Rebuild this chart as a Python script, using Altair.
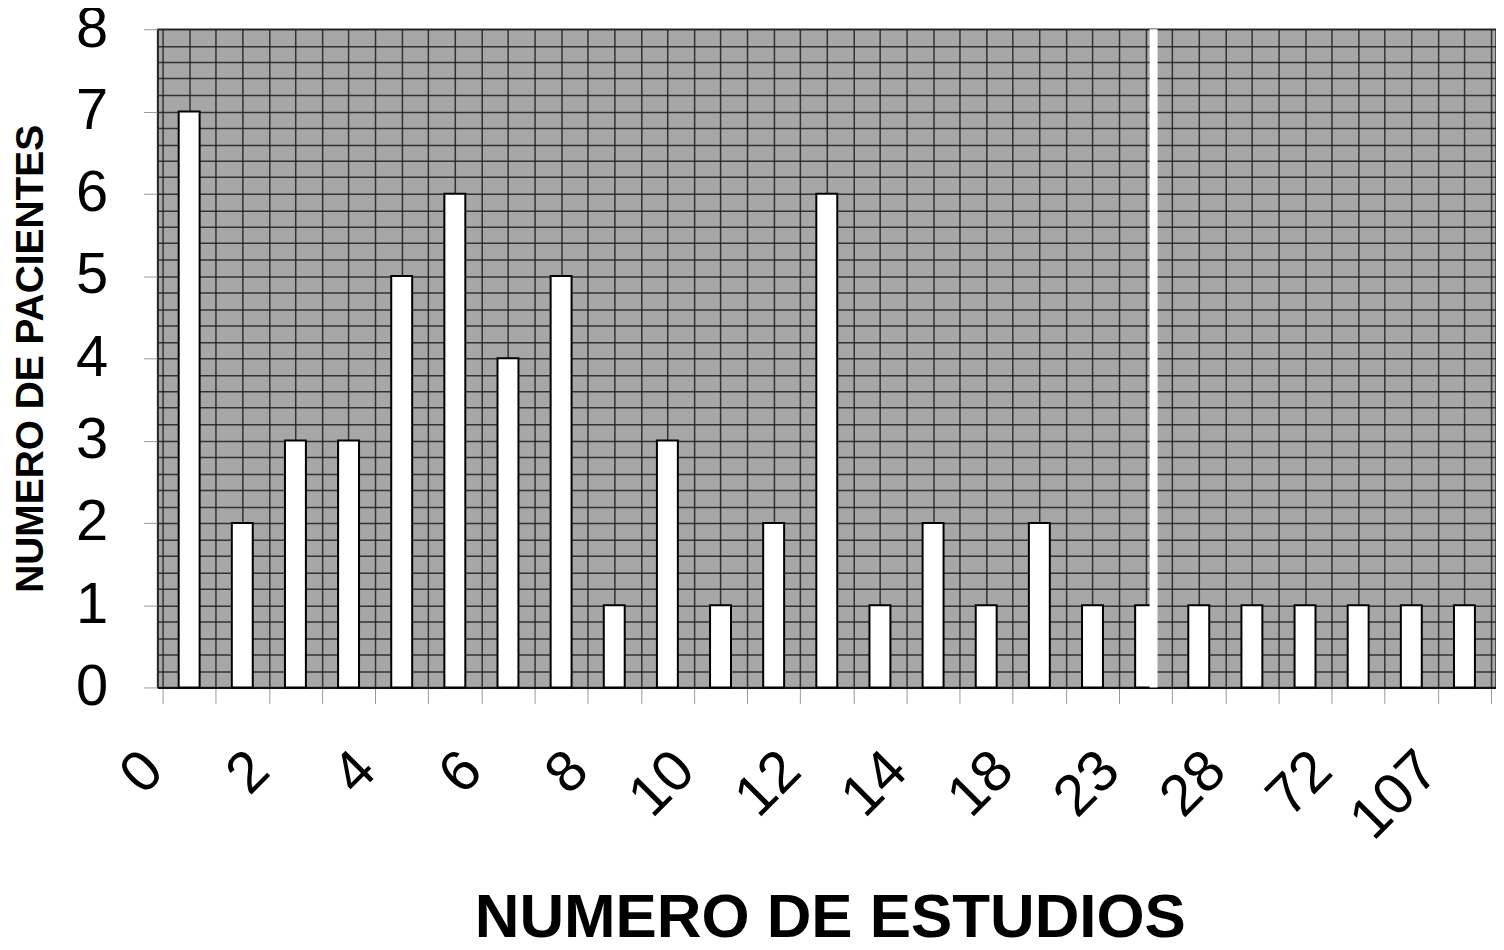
import altair as alt
import pandas as pd

# Values
pacientes = [7, 2, 3, 3, 5, 6, 4, 5, 1, 3, 1, 2, 6, 1, 2, 1, 2, 1, 1, 1, 1, 1, 1, 1, 1]
tick_labels = ["0", "2", "4", "6", "8", "10", "12", "14", "18", "23", "28", "72", "107"]
y_ticks = [0, 1, 2, 3, 4, 5, 6, 7, 8]
scan_gap_at = [18.65]  # white strip of the scanned page

n = len(pacientes)
df = pd.DataFrame({
    "idx": list(range(n)),
    "center": [i + 0.5 for i in range(n)],
    "pacientes": pacientes,
})

FONT = "Liberation Sans"
xscale = alt.Scale(domain=[0, n], nice=False, zero=False)
yscale = alt.Scale(domain=[0, 8], nice=False)

half_steps = [i * 0.5 for i in range(2 * n + 1)]
fifth_steps = [round(i * 0.2, 1) for i in range(41)]

labels_js = "[" + ",".join("'" + s + "'" for s in tick_labels) + "]"
label_expr = f"datum.value % 2 == 0 ? {labels_js}[datum.value / 2] : ''"

grid_layer = alt.Chart(df).mark_point(opacity=0).encode(
    x=alt.X("center:Q", scale=xscale,
            axis=alt.Axis(orient="top", values=half_steps, grid=True, labels=False,
                          ticks=False, domain=False, title=None,
                          gridColor="#1e1e1e", gridWidth=1.5, gridOpacity=0.85)),
    y=alt.Y("pacientes:Q", scale=yscale,
            axis=alt.Axis(orient="right", values=fifth_steps, grid=True, labels=False,
                          ticks=False, domain=False, title=None,
                          gridColor="#1e1e1e", gridWidth=1.5, gridOpacity=0.85)),
)

bars = alt.Chart(df).mark_bar(size=21, fill="white", stroke="black", strokeWidth=2).encode(
    x=alt.X("center:Q", scale=xscale,
            axis=alt.Axis(orient="bottom", values=list(range(n + 1)), grid=False,
                          labelExpr=label_expr, labelAngle=315, labelAlign="right",
                          labelBaseline="middle", labelFontSize=58, labelFont=FONT,
                          labelColor="black", labelPadding=58, labelOffset=-9,
                          labelOverlap=False, labelFlush=False,
                          tickSize=16, tickColor="#9a9a9a", tickWidth=1,
                          domain=True, domainColor="#111", domainWidth=2,
                          title="NUMERO DE ESTUDIOS", titleFont=FONT, titleFontSize=62,
                          titleFontWeight="bold", titleColor="black",
                          titleX=674, titleY=250, titleBaseline="alphabetic",
                          titleAlign="center")),
    y=alt.Y("pacientes:Q", scale=yscale,
            axis=alt.Axis(orient="left", values=y_ticks, grid=False,
                          labelFontSize=58, labelFont=FONT, labelColor="black",
                          labelPadding=36, tickSize=14, tickColor="#9a9a9a", tickWidth=1,
                          domain=True, domainColor="#222", domainWidth=1.5,
                          title="NUMERO DE PACIENTES", titleFont=FONT, titleFontSize=39,
                          titleFontWeight="bold", titleColor="black",
                          titleX=-127, titleY=330, titleAngle=270,
                          titleAlign="center", titleBaseline="middle")),
)

gap = alt.Chart(pd.DataFrame({"g": scan_gap_at})).mark_rule(
    color="white", strokeWidth=8).encode(x=alt.X("g:Q", scale=xscale, axis=None))

chart = alt.layer(grid_layer, bars, gap).resolve_axis(
    x="independent", y="independent"
).properties(
    width=1342, height=660,
    autosize=alt.AutoSizeParams(type="none"),
    padding={"left": 150, "top": 20, "right": 0, "bottom": 262},
).configure_view(fill="#a7a7a7", stroke="#333", strokeWidth=1.5)

chart.save("out.html", embed_options={"renderer": "svg", "actions": False})
